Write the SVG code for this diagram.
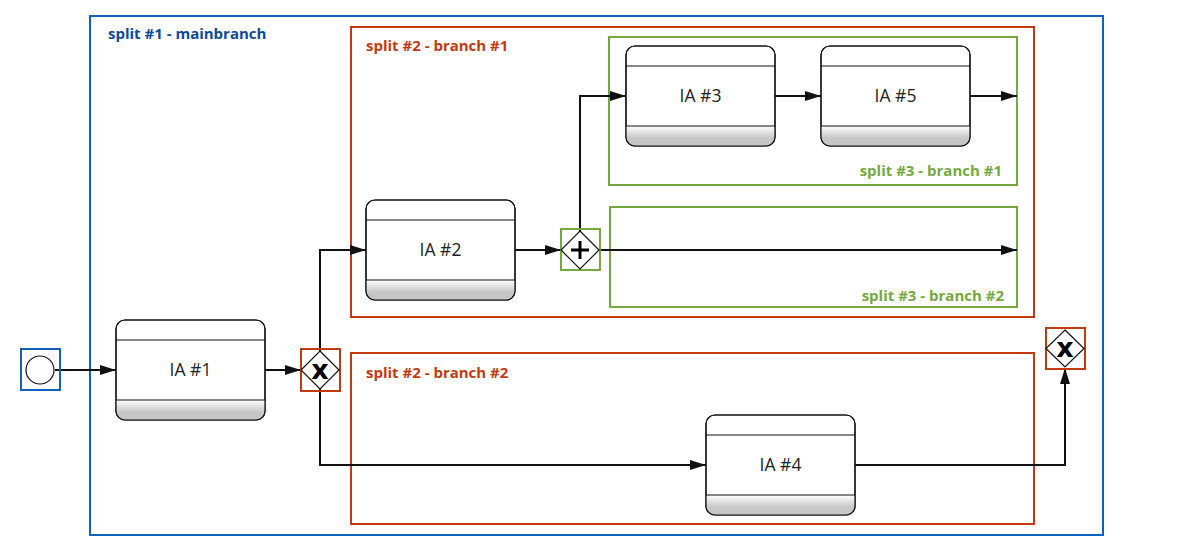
<svg xmlns="http://www.w3.org/2000/svg" width="1190" height="540" viewBox="0 0 1190 540">
<style>
.lane{fill:none;stroke-width:2}
.blue{stroke:#1060c0}
.red{stroke:#c23a10}
.green{stroke:#76a840}
.lbl{font-family:"Open Sans","DejaVu Sans",sans-serif;font-weight:bold;font-size:15px}
.task{fill:#fff;stroke:#111;stroke-width:1.2}
.sep{stroke:#111;stroke-width:1.2}
.tt{font-family:"Open Sans","DejaVu Sans",sans-serif;font-size:17.5px;fill:#222;text-anchor:middle}
.conn{fill:none;stroke:#111;stroke-width:2}
.gw{fill:#fff;stroke:#111;stroke-width:1.2}
.gx{font-family:"DejaVu Sans",sans-serif;font-weight:bold;font-size:27px;text-anchor:middle;fill:#000}
</style>
<defs>
<linearGradient id="foot" x1="0" y1="0" x2="0" y2="1">
<stop offset="0" stop-color="#ffffff"/>
<stop offset="0.6" stop-color="#c8c8c8"/>
<stop offset="1" stop-color="#c4c4c4"/>
</linearGradient>
<clipPath id="c1"><rect x="0" y="0" width="149" height="100" rx="9"/></clipPath>
<marker id="arr" viewBox="0 0 16 10" refX="16" refY="5" markerWidth="16" markerHeight="10" markerUnits="userSpaceOnUse" orient="auto">
<path d="M0,0 L16,5 L0,10 Z" fill="#111"/>
</marker>
<g id="taskShape">
<rect x="0" y="0" width="149" height="100" rx="9" class="task"/>
<rect x="0" y="80" width="149" height="20" fill="url(#foot)" clip-path="url(#c1)"/>
<rect x="0" y="0" width="149" height="100" rx="9" fill="none" stroke="#111" stroke-width="1.2"/>
<line x1="0" y1="20" x2="149" y2="20" class="sep"/>
<line x1="0" y1="80" x2="149" y2="80" class="sep"/>
</g>
</defs>
<rect width="1190" height="540" fill="#fff"/>

<g id="lanes">
<rect x="90" y="16" width="1013" height="519" class="lane blue"/>
<text x="108" y="39" class="lbl" fill="#0d4a96">split #1 - mainbranch</text>
<rect x="351" y="27" width="683" height="290" class="lane red"/>
<text x="366" y="51" class="lbl" fill="#c23a10">split #2 - branch #1</text>
<rect x="351" y="353" width="683" height="171" class="lane red"/>
<text x="366" y="378" class="lbl" fill="#c23a10">split #2 - branch #2</text>
<rect x="609" y="37" width="408" height="148" class="lane green"/>
<text x="1002" y="176" class="lbl" fill="#76a840" text-anchor="end">split #3 - branch #1</text>
<rect x="610" y="207" width="407" height="100" class="lane green"/>
<text x="1004" y="301" class="lbl" fill="#76a840" text-anchor="end">split #3 - branch #2</text>
</g>

<g id="connectors">
<line x1="55" y1="370" x2="116" y2="370" class="conn" marker-end="url(#arr)"/>
<line x1="265" y1="370" x2="301" y2="370" class="conn" marker-end="url(#arr)"/>
<polyline points="320,351 320,250 366,250" class="conn" marker-end="url(#arr)"/>
<polyline points="320,389 320,465 706,465" class="conn" marker-end="url(#arr)"/>
<line x1="515" y1="250" x2="561" y2="250" class="conn" marker-end="url(#arr)"/>
<polyline points="580,231 580,96 626,96" class="conn" marker-end="url(#arr)"/>
<line x1="599" y1="250" x2="1017" y2="250" class="conn" marker-end="url(#arr)"/>
<line x1="775" y1="96" x2="821" y2="96" class="conn" marker-end="url(#arr)"/>
<line x1="970" y1="96" x2="1017" y2="96" class="conn" marker-end="url(#arr)"/>
<polyline points="855,465 1065,465 1065,368" class="conn" marker-end="url(#arr)"/>
</g>

<g id="start">
<rect x="21" y="349" width="39" height="41" fill="#fff" class="lane blue"/>
<circle cx="40" cy="370" r="14" fill="#fff" stroke="#111" stroke-width="1.2"/>
</g>

<g id="ia1" transform="translate(116,320)">
<use href="#taskShape"/>
<text x="74.5" y="56" class="tt">IA #1</text>
</g>

<g id="gw1">
<rect x="301" y="349" width="39" height="42" fill="#fff" class="lane red"/>
<polygon points="320,351 339,370 320,389 301,370" class="gw"/>
<text x="320" y="379" class="gx">x</text>
</g>

<g id="ia2" transform="translate(366,200)">
<use href="#taskShape"/>
<text x="74.5" y="56" class="tt">IA #2</text>
</g>

<g id="gw2">
<rect x="561" y="229" width="39" height="41" fill="#fff" class="lane green"/>
<polygon points="580,231 599,250 580,269 561,250" class="gw"/>
<path d="M580,241 V259 M571,250 H589" stroke="#000" stroke-width="3"/>
</g>

<g id="ia3" transform="translate(626,46)">
<use href="#taskShape"/>
<text x="74.5" y="56" class="tt">IA #3</text>
</g>

<g id="ia5" transform="translate(821,46)">
<use href="#taskShape"/>
<text x="74.5" y="56" class="tt">IA #5</text>
</g>

<g id="ia4" transform="translate(706,415)">
<use href="#taskShape"/>
<text x="74.5" y="56" class="tt">IA #4</text>
</g>

<g id="gw3">
<rect x="1046" y="328" width="39" height="41" fill="#fff" class="lane red"/>
<polygon points="1065,330 1084,348.5 1065,367 1046,348.5" class="gw"/>
<text x="1065" y="357" class="gx">x</text>
</g>
</svg>
